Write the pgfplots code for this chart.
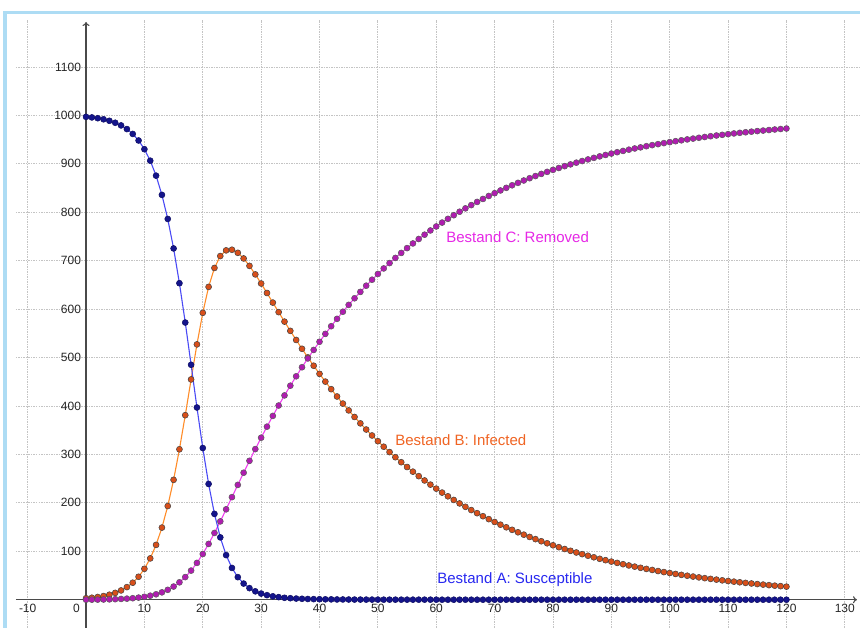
\documentclass[border=0pt]{standalone}
\usepackage{fontspec}
\setmainfont{Liberation Sans}
\usepackage{pgfplots}
\pgfplotsset{compat=1.18}
\usepackage{pgfplotstable}
\usetikzlibrary{arrows.meta}

\definecolor{frameblue}{HTML}{ADDCF4}
\definecolor{gridgray}{HTML}{C4C4C4}
\definecolor{axisgray}{HTML}{4A4A4A}
\definecolor{sline}{HTML}{4A4AF5}
\definecolor{smark}{HTML}{14148C}
\definecolor{iline}{HTML}{FF8C28}
\definecolor{imark}{HTML}{D84F1A}
\definecolor{rline}{HTML}{F040F0}
\definecolor{rmark}{HTML}{B01CB0}
\definecolor{slabel}{HTML}{2828F0}
\definecolor{ilabel}{HTML}{F06423}
\definecolor{rlabel}{HTML}{E628E6}

% SIR model: susceptible (S), infected (I), removed (R), one row per time step
\pgfplotstableread{
t S I R
0 997.0 3.0 0.0
1 995.8 4.1 0.1
2 994.2 5.6 0.2
3 992.0 7.6 0.4
4 988.9 10.3 0.7
5 984.8 14.1 1.1
6 979.3 19.1 1.6
7 971.8 26.0 2.2
8 961.7 35.1 3.1
9 948.2 47.4 4.4
10 930.2 63.8 6.0
11 906.5 85.3 8.3
12 875.6 113.2 11.2
13 835.9 148.9 15.2
14 786.2 193.4 20.4
15 725.3 247.5 27.2
16 653.5 310.6 35.9
17 572.3 381.0 46.7
18 485.1 454.8 60.1
19 396.9 527.2 76.0
20 313.2 592.4 94.4
21 239.0 645.9 115.2
22 177.2 685.0 137.8
23 128.7 709.6 161.7
24 92.1 721.3 186.6
25 65.6 722.6 211.8
26 46.6 716.3 237.1
27 33.3 704.6 262.2
28 23.9 689.3 286.8
29 17.3 671.7 311.0
30 12.7 652.9 334.5
31 9.4 633.3 357.3
32 7.0 613.5 379.5
33 5.3 593.8 401.0
34 4.0 574.2 421.8
35 3.1 555.1 441.9
36 2.4 536.3 461.3
37 1.9 518.1 480.0
38 1.5 500.3 498.2
39 1.2 483.1 515.7
40 1.0 466.4 532.6
41 0.8 450.3 548.9
42 0.7 434.7 564.7
43 0.5 419.6 579.9
44 0.5 405.0 594.6
45 0.4 390.9 608.8
46 0.3 377.3 622.4
47 0.3 364.1 635.6
48 0.2 351.4 648.4
49 0.2 339.1 660.7
50 0.2 327.3 672.6
51 0.1 315.9 684.0
52 0.1 304.8 695.1
53 0.1 294.2 705.7
54 0.1 283.9 716.0
55 0.1 274.0 726.0
56 0.1 264.4 735.6
57 0.1 255.1 744.8
58 0.1 246.2 753.7
59 0.1 237.6 762.4
60 0.1 229.3 770.7
61 0.0 221.2 778.7
62 0.0 213.5 786.4
63 0.0 206.0 793.9
64 0.0 198.8 801.1
65 0.0 191.8 808.1
66 0.0 185.1 814.8
67 0.0 178.7 821.3
68 0.0 172.4 827.5
69 0.0 166.4 833.6
70 0.0 160.5 839.4
71 0.0 154.9 845.0
72 0.0 149.5 850.4
73 0.0 144.3 855.7
74 0.0 139.2 860.7
75 0.0 134.3 865.6
76 0.0 129.6 870.3
77 0.0 125.1 874.8
78 0.0 120.7 879.2
79 0.0 116.5 883.4
80 0.0 112.4 887.5
81 0.0 108.5 891.4
82 0.0 104.7 895.2
83 0.0 101.0 898.9
84 0.0 97.5 902.4
85 0.0 94.1 905.8
86 0.0 90.8 909.1
87 0.0 87.6 912.3
88 0.0 84.5 915.4
89 0.0 81.6 918.3
90 0.0 78.7 921.2
91 0.0 76.0 924.0
92 0.0 73.3 926.6
93 0.0 70.7 929.2
94 0.0 68.3 931.7
95 0.0 65.9 934.0
96 0.0 63.6 936.4
97 0.0 61.4 938.6
98 0.0 59.2 940.7
99 0.0 57.1 942.8
100 0.0 55.1 944.8
101 0.0 53.2 946.7
102 0.0 51.3 948.6
103 0.0 49.5 950.4
104 0.0 47.8 952.1
105 0.0 46.1 953.8
106 0.0 44.5 955.4
107 0.0 43.0 957.0
108 0.0 41.5 958.5
109 0.0 40.0 959.9
110 0.0 38.6 961.3
111 0.0 37.3 962.7
112 0.0 36.0 964.0
113 0.0 34.7 965.2
114 0.0 33.5 966.4
115 0.0 32.3 967.6
116 0.0 31.2 968.7
117 0.0 30.1 969.8
118 0.0 29.0 970.9
119 0.0 28.0 971.9
120 0.0 27.0 972.9
}\sirdata

\begin{document}
\begin{tikzpicture}[x=1pt,y=1pt]
  \fill[white] (0,0) rectangle (860,628);
  \begin{axis}[
    at={(16pt,0pt)}, anchor=south west,
    scale only axis, width=844pt, height=608pt,
    xmin=-12, xmax=132.6, ymin=-58.4, ymax=1197,
    axis lines=middle,
    axis line style={axisgray, line width=1.1pt},
    x axis line style={-{To[length=4pt,width=7pt]}, shorten >=3pt},
    y axis line style={-{To[length=4pt,width=7pt]}, shorten >=2pt},
    xtick={-10,10,20,30,40,50,60,70,80,90,100,110,120,130},
    xticklabels={-10,10,20,30,40,50,60,70,80,90,100,110,120,130},
    ytick={100,200,300,400,500,600,700,800,900,1000,1100},
    yticklabels={100,200,300,400,500,600,700,800,900,1000,1100},
    major tick length=0pt,
    grid=major,
    major grid style={gridgray, line width=0.9pt, dash pattern=on 1.5pt off 1pt},
    tick label style={font=\fontsize{12}{14}\selectfont, text=black!85},
    x tick label style={yshift=-0.5pt},
    y tick label style={xshift=-1.5pt},
    clip=false,
  ]
    \addplot[iline, line width=1.1pt, mark=*, mark size=3pt,
      mark options={fill=imark, draw=black!75, line width=0.5pt}]
      table[x=t, y=I] {\sirdata};
    \addplot[rline, line width=1.1pt, mark=*, mark size=3pt,
      mark options={fill=rmark, draw=black!65, line width=0.5pt}]
      table[x=t, y=R] {\sirdata};
    \addplot[sline, line width=1.1pt, mark=*, mark size=3pt,
      mark options={fill=smark, draw=smark!70!black, line width=0.5pt}]
      table[x=t, y=S] {\sirdata};

    \node[anchor=north east, inner sep=0pt, font=\fontsize{12}{14}\selectfont, text=black!85]
      at (axis cs:0,0) [xshift=-6pt, yshift=-4pt] {0};

    \node[anchor=west, inner sep=0pt, text=slabel, font=\fontsize{15}{18}\selectfont]
      at (axis cs:60.15,40.7) {Bestand A: Susceptible};
    \node[anchor=west, inner sep=0pt, text=ilabel, font=\fontsize{15}{18}\selectfont]
      at (axis cs:52.96,329.8) {Bestand B: Infected};
    \node[anchor=west, inner sep=0pt, text=rlabel, font=\fontsize{15}{18}\selectfont]
      at (axis cs:61.7,749) {Bestand C: Removed};
  \end{axis}
  % window frame, top and left edges
  \fill[frameblue] (3,0) rectangle (7,617);
  \fill[frameblue] (3,613.5) rectangle (860,617);
  \pgfresetboundingbox
  \path[use as bounding box] (0,0) rectangle (860,628);
\end{tikzpicture}
\end{document}
